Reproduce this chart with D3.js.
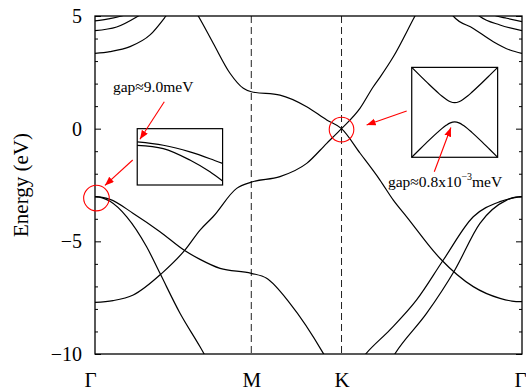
<!DOCTYPE html>
<html>
<head>
<meta charset="utf-8">
<script src="https://cdn.jsdelivr.net/npm/d3@7"></script>
<style>
  body { margin: 0; background: #fff; }
  svg text { font-family: "Liberation Serif", "Times New Roman", serif; }
</style>
</head>
<body>
<div id="chart"></div>
<script>
// path G-M-K-G, k in units of |GK|
const kPoints = [0, 0.866, 1.366, 2.366];
const kLabels = ["Γ", "M", "K", "Γ"];
const energyTicks = [5, 0, -5, -10];
const energyMinor = [4, 3, 2, 1, -1, -2, -3, -4, -6, -7, -8, -9];

// bands, [k, E(eV)]
const diracDown = [[0.50, 5.9], [0.572, 5.0], [0.655, 3.79], [0.748, 2.46], [0.822, 1.79], [0.866, 1.64],
  [1.025, 1.49], [1.173, 0.975], [1.284, 0.385], [1.366, 0], [1.468, -1.08], [1.579, -2.28],
  [1.653, -3.17], [1.727, -3.91], [1.911, -5.75], [2.096, -7.01], [2.244, -7.53], [2.31, -7.65], [2.366, -7.68]];
const diracUp = [[0, -7.71], [0.1, -7.63], [0.212, -7.38], [0.37, -6.42], [0.499, -5.38], [0.582, -4.50],
  [0.654, -3.91], [0.785, -2.65], [0.866, -2.37], [1.025, -2.13], [1.173, -1.54], [1.284, -0.65],
  [1.366, 0], [1.468, 0.9], [1.542, 1.86], [1.579, 2.28], [1.653, 3.19], [1.773, 5.0], [1.80, 5.4]];
const sigmaLightL = [[0, -3.02], [0.04, -3.05], [0.083, -3.14], [0.212, -3.76], [0.36, -4.57], [0.499, -5.42],
  [0.582, -5.80], [0.693, -6.20], [0.866, -6.42], [0.951, -6.64], [1.08, -7.75], [1.265, -9.97], [1.33, -10.9]];
const sigmaHeavyL = [[0, -3.02], [0.04, -3.07], [0.083, -3.22], [0.176, -3.91], [0.286, -5.24], [0.36, -6.42],
  [0.471, -8.19], [0.582, -9.68], [0.604, -9.99], [0.637, -10.5]];
const sigmaLightR = [[1.44, -10.6], [1.501, -9.99], [1.634, -8.93], [1.782, -7.60], [1.930, -5.83],
  [2.096, -3.91], [2.244, -3.24], [2.326, -3.06], [2.366, -3.02]];
const sigmaHeavyR = [[1.623, -10.5], [1.662, -9.99], [1.838, -8.19], [1.994, -6.27], [2.133, -4.20],
  [2.281, -3.17], [2.33, -3.04], [2.366, -3.02]];
const upperAL = [[0, 4.78], [0.074, 4.87], [0.148, 5.0], [0.2, 5.15]];
const upperBL = [[0, 4.35], [0.12, 4.51], [0.24, 5.0], [0.28, 5.2]];
const upperCL = [[0, 3.34], [0.083, 3.42], [0.194, 3.64], [0.305, 4.16], [0.393, 5.0], [0.43, 5.4]];
const upperAR = [[2.17, 5.2], [2.225, 5.0], [2.281, 4.90], [2.366, 4.75]];
const upperBR = [[2.10, 5.2], [2.129, 5.0], [2.244, 4.6], [2.366, 4.35]];
const upperCR = [[1.96, 5.3], [1.985, 5.0], [2.096, 4.45], [2.207, 3.86], [2.299, 3.49], [2.366, 3.34]];
const bands = [diracDown, diracUp, sigmaLightL, sigmaHeavyL, sigmaLightR, sigmaHeavyR,
  upperAL, upperBL, upperCL, upperAR, upperBR, upperCR];

// insets (normalised units)
const inset1Upper = [[0, -0.236], [0.305, -0.295], [0.617, -0.413], [0.852, -0.533], [1, -0.617]];
const inset1Lower = [[0, -0.295], [0.305, -0.353], [0.617, -0.557], [0.852, -0.766], [1, -0.929]];
const inset2Upper = [[0, 0.5], [0.1, 0.405], [0.2, 0.312], [0.3, 0.223], [0.35, 0.181], [0.4, 0.145],
  [0.45, 0.117], [0.5, 0.107], [0.55, 0.117], [0.6, 0.145], [0.65, 0.181], [0.7, 0.223], [0.8, 0.312], [0.9, 0.405], [1, 0.5]];
const inset2Lower = [[0, -0.5], [0.1, -0.405], [0.2, -0.312], [0.3, -0.223], [0.35, -0.181], [0.4, -0.145],
  [0.45, -0.117], [0.5, -0.107], [0.55, -0.117], [0.6, -0.145], [0.65, -0.181], [0.7, -0.223], [0.8, -0.312], [0.9, -0.405], [1, -0.5]];
// inset boxes in main data coords: [k0, k1, E0, E1]
const inset1Box = [0.234, 0.707, -2.5, 0.0];
const inset2Box = [1.755, 2.231, -1.27, 2.72];

// annotations in data coords
const circles = [[0.008, -3.08, 12.8], [1.366, -0.04, 12.3]];
const arrows = [[0.384, 1.197, 0.249, -0.472], [0.209, -1.39, 0.055, -2.52],
  [1.727, 0.784, 1.505, 0.163], [1.880, -1.91, 1.972, 0.052]];
const gapText1 = [0.0997, 1.64];
const gapText2 = [1.623, -2.60];

const W = 526, H = 392;
const margin = { top: 16, right: 4, bottom: 38, left: 95 };
const width = W - margin.left - margin.right;
const height = H - margin.top - margin.bottom;

const svgRoot = d3.select("#chart").append("svg").attr("width", W).attr("height", H);
const svg = svgRoot.append("g").attr("transform", "translate(" + margin.left + "," + margin.top + ")");

const x = d3.scaleLinear().domain([0, 2.366]).range([0, width]);
const y = d3.scaleLinear().domain([-10, 5]).range([height, 0]);

svgRoot.append("defs").append("clipPath").attr("id", "plotclip")
  .append("rect").attr("width", width).attr("height", height);
svgRoot.select("defs").append("marker")
  .attr("id", "arrowhead")
  .attr("markerUnits", "userSpaceOnUse")
  .attr("markerWidth", 10).attr("markerHeight", 8)
  .attr("refX", 9).attr("refY", 3.5)
  .attr("orient", "auto")
  .append("path").attr("d", "M0,0 L9,3.5 L0,7 z").attr("fill", "red");

const line = d3.line().curve(d3.curveMonotoneX)
  .x(d => x(d[0])).y(d => y(d[1]));

// dashed lines at M and K
svg.selectAll(".symline").data([kPoints[1], kPoints[2]]).enter()
  .append("line")
  .attr("x1", d => x(d)).attr("x2", d => x(d))
  .attr("y1", 0).attr("y2", height)
  .attr("stroke", "#222").attr("stroke-width", 1)
  .attr("stroke-dasharray", "7,4");

// bands
svg.append("g").attr("clip-path", "url(#plotclip)")
  .selectAll("path").data(bands).enter()
  .append("path")
  .attr("d", line)
  .attr("fill", "none")
  .attr("stroke", "#000")
  .attr("stroke-width", 1.2);

// axes
const styleAxis = g => { g.select(".domain").remove(); };
svg.append("g").call(d3.axisLeft(y).tickValues(energyMinor).tickSize(-3).tickFormat("")).call(styleAxis);
const yAxis = svg.append("g")
  .call(d3.axisLeft(y).tickValues(energyTicks).tickSizeInner(-6).tickSizeOuter(0).tickPadding(13))
  .call(styleAxis);
yAxis.selectAll("text").attr("font-family", "Liberation Serif").attr("font-size", 20).attr("fill", "#000");
svg.append("g").attr("transform", "translate(" + width + ",0)")
  .call(d3.axisRight(y).tickValues(energyMinor).tickSize(-3).tickFormat("")).call(styleAxis);
svg.append("g").attr("transform", "translate(" + width + ",0)")
  .call(d3.axisRight(y).tickValues(energyTicks).tickSize(-6).tickFormat("")).call(styleAxis);
svg.selectAll(".tick line").attr("stroke", "#000");

const xAxis = svg.append("g").attr("transform", "translate(0," + height + ")")
  .call(d3.axisBottom(x).tickValues(kPoints).tickFormat((d, i) => kLabels[i]).tickSize(0).tickPadding(18))
  .call(styleAxis);
xAxis.selectAll("text").attr("font-family", "Liberation Serif").attr("font-size", 21).attr("fill", "#000")
  .attr("dx", (d, i) => (i === 0 ? -5 : i === 3 ? -2 : 0));

// frame
svg.append("rect").attr("width", width).attr("height", height)
  .attr("fill", "none").attr("stroke", "#000").attr("stroke-width", 1.3);

svgRoot.append("text")
  .attr("transform", "translate(28,185) rotate(-90)")
  .attr("text-anchor", "middle")
  .attr("font-family", "Liberation Serif")
  .attr("font-weight", "normal")
  .attr("font-size", 21)
  .attr("fill", "#000")
  .text("Energy (eV)");

// insets
function drawInset(box, curves, yDomain) {
  const x0 = x(box[0]), x1 = x(box[1]), yTop = y(box[3]), yBot = y(box[2]);
  const g = svg.append("g").attr("transform", "translate(" + x0 + "," + yTop + ")");
  const w = x1 - x0, h = yBot - yTop;
  const xi = d3.scaleLinear().domain([0, 1]).range([0, w]);
  const yi = d3.scaleLinear().domain(yDomain).range([h, 0]);
  g.append("rect").attr("width", w).attr("height", h).attr("fill", "#fff")
    .attr("stroke", "#000").attr("stroke-width", 1.2);
  const l = d3.line().curve(d3.curveMonotoneX).x(d => xi(d[0])).y(d => yi(d[1]));
  g.selectAll("path.c").data(curves).enter().append("path")
    .attr("class", "c").attr("d", l).attr("fill", "none")
    .attr("stroke", "#000").attr("stroke-width", 1.2);
}
drawInset(inset1Box, [inset1Upper, inset1Lower], [-1, 0]);
drawInset(inset2Box, [inset2Upper, inset2Lower], [-0.5, 0.5]);

// red circles + arrows
svg.selectAll(".ring").data(circles).enter().append("circle")
  .attr("cx", d => x(d[0])).attr("cy", d => y(d[1])).attr("r", d => d[2])
  .attr("fill", "none").attr("stroke", "red").attr("stroke-width", 1.1);
svg.selectAll(".arr").data(arrows).enter().append("line")
  .attr("x1", d => x(d[0])).attr("y1", d => y(d[1]))
  .attr("x2", d => x(d[2])).attr("y2", d => y(d[3]))
  .attr("stroke", "red").attr("stroke-width", 1.1)
  .attr("marker-end", "url(#arrowhead)");

svg.append("text").attr("x", x(gapText1[0])).attr("y", y(gapText1[1]))
  .attr("font-size", 15.5).text("gap≈9.0meV");
const t2 = svg.append("text").attr("x", x(gapText2[0])).attr("y", y(gapText2[1]))
  .attr("font-size", 15.5);
t2.append("tspan").text("gap≈0.8x10");
t2.append("tspan").attr("dy", -7).attr("font-size", 10).text("−3");
t2.append("tspan").attr("dy", 7).text("meV");
</script>
</body>
</html>
